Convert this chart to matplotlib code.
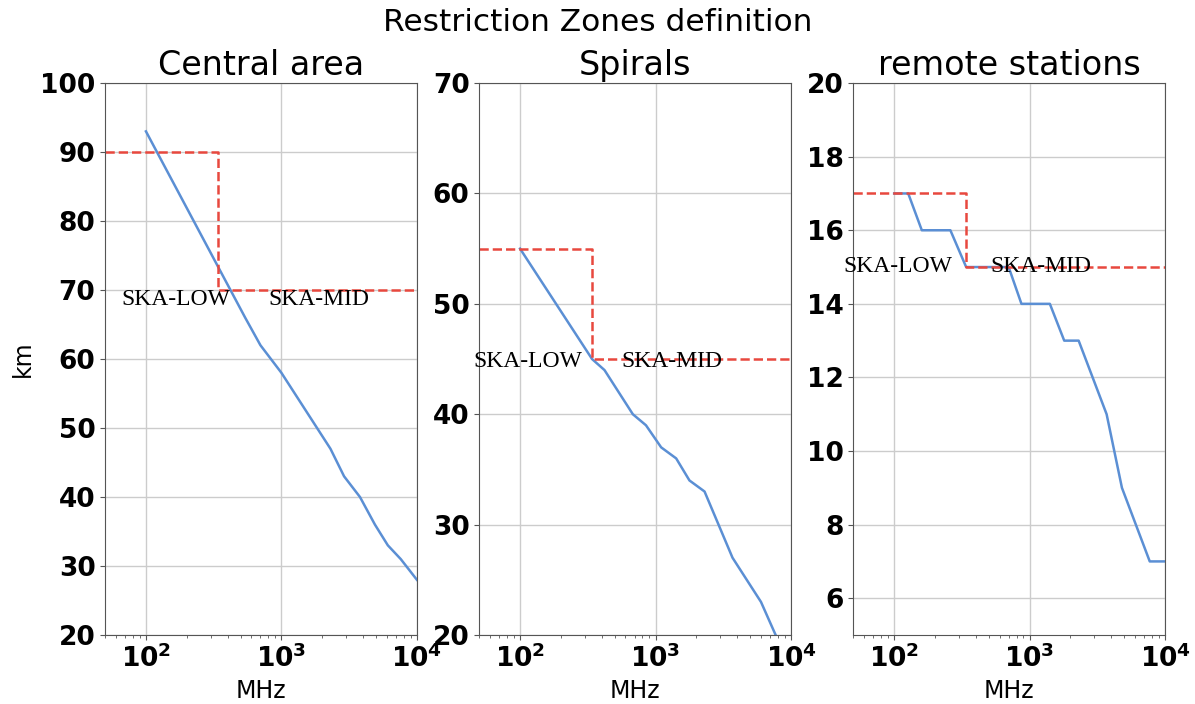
import matplotlib.pyplot as plt
import numpy as np

# frequency (MHz) vs distance (km) for each zone
central_freq = [100, 540, 700, 1000, 2300, 2900, 3800, 4900, 6100, 7600, 10000]
central_km = [93, 66, 62, 58, 47, 43, 40, 36, 33, 31, 28]

spiral_freq = [100, 340, 420, 680, 850, 1100, 1420, 1780, 2300, 3700, 6000, 7700, 10000]
spiral_km = [55, 45, 44, 40, 39, 37, 36, 34, 33, 27, 23, 20, 17]

remote_freq = [100, 127, 160, 260, 340, 700, 870, 1410, 1800, 2300, 3700, 4800, 7700, 10000]
remote_km = [17, 17, 16, 16, 15, 15, 14, 14, 13, 13, 11, 9, 7, 7]

# restriction limits: low band up to ~340 MHz, mid band above
limit_freq = [50, 340, 340, 10000]
central_limit = [90, 90, 70, 70]
spiral_limit = [55, 55, 45, 45]
remote_limit = [17, 17, 15, 15]

titles = ['Central area', 'Spirals', 'remote stations']
ylims = [(20, 100), (20, 70), (5, 20)]
yticks = [np.arange(20, 101, 10), np.arange(20, 71, 10), np.arange(6, 21, 2)]
# label positions (x of SKA-LOW, x of SKA-MID, y baseline)
label_pos = [(66, 800, 67.8), (45, 555, 44.3), (42, 510, 14.86)]

fig, axes = plt.subplots(1, 3, figsize=(11.95, 7.04), dpi=100)
fig.subplots_adjust(left=0.088, right=0.975, top=0.882, bottom=0.098, wspace=0.2)

blue = '#5b8fd4'
red = '#e8483e'

data = [(central_freq, central_km, central_limit),
        (spiral_freq, spiral_km, spiral_limit),
        (remote_freq, remote_km, remote_limit)]

for i, ax in enumerate(axes):
    f, km, lim = data[i]
    ax.plot(f, km, color=blue, lw=1.8)
    ax.plot(limit_freq, lim, color=red, ls='--', lw=1.8)
    ax.set_xscale('log')
    ax.set_xlim(50, 10000)
    ax.set_ylim(*ylims[i])
    ax.set_yticks(yticks[i])
    ax.grid(True, which='major', color='#cccccc', lw=1)
    ax.set_title(titles[i], fontsize=24)
    ax.set_xlabel('MHz', fontsize=17)
    for lab in ax.get_xticklabels() + ax.get_yticklabels():
        lab.set_fontweight('bold')
    ax.tick_params(axis='both', which='major', labelsize=19, color='#555555')
    ax.tick_params(axis='x', which='minor', color='#555555')
    for s in ax.spines.values():
        s.set_color('#555555')
    xl, xm, yb = label_pos[i]
    ax.text(xl, yb, 'SKA-LOW', fontsize=17, family='Liberation Serif')
    ax.text(xm, yb, 'SKA-MID', fontsize=17, family='Liberation Serif')

axes[0].set_ylabel('km', fontsize=17)
fig.suptitle('Restriction Zones definition', fontsize=22.5, y=0.988)

plt.savefig('out.png')
